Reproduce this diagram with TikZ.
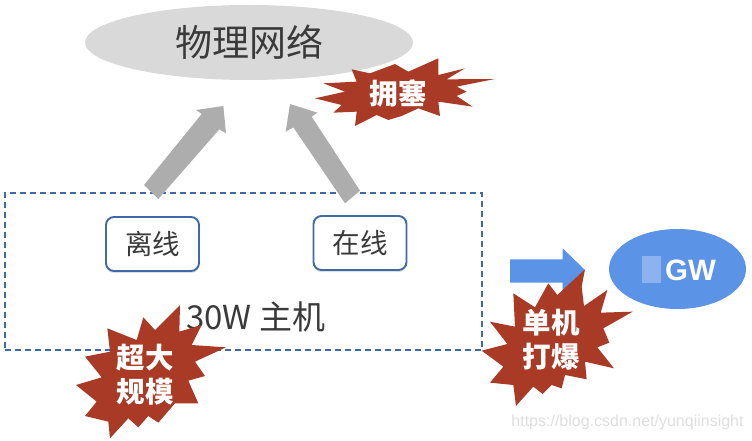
\documentclass[tikz,border=0pt]{standalone}
\usepackage{fontspec}
\usetikzlibrary{shapes.geometric,shadows}
\setmainfont{Liberation Sans}
\newfontfamily\cjk{Noto Sans CJK SC}
\definecolor{burst}{HTML}{A93A26}
\definecolor{framecol}{HTML}{3F6AA6}
\definecolor{cloudgrey}{HTML}{D9D9D9}
\definecolor{arrowgrey}{HTML}{ADADAD}
\definecolor{flowblue}{HTML}{5B93E6}
\definecolor{inktext}{HTML}{3A3A3A}
\tikzset{
  burststar/.style={fill=burst,draw=none},
  bursttext/.style={text=white,font=\cjk\bfseries\fontsize{28.5}{34}\selectfont,align=center,inner sep=0pt},
  blockgrey/.style={fill=arrowgrey,draw=none},
  modebox/.style={draw=framecol,line width=1.9pt,rounded corners=8pt,fill=white,minimum width=93pt,minimum height=54pt,text=inktext,font=\cjk\fontsize{27.5}{30}\selectfont,inner sep=0pt,drop shadow={opacity=.25,shadow xshift=0pt,shadow yshift=-2pt}},
}
\begin{document}
\begin{tikzpicture}[x=1pt,y=-1pt]
\useasboundingbox (0,0) rectangle (752,441);
\node[ellipse,fill=cloudgrey,minimum width=328pt,minimum height=75pt,inner sep=0pt,text=inktext,font=\cjk\fontsize{37}{40}\selectfont] (net) at (249,42.5) {物理网络};
% frame
\node[draw=framecol,dashed,dash pattern=on 6pt off 4pt,line width=1.1pt,minimum width=477pt,minimum height=157pt,inner sep=0pt] (hosts) at (243.5,271.5) {};
% grey arrows
\begin{scope}[shift={(90,100)},scale=1/3]
\fill[blockgrey] (162,255) -- (335,42) -- (318,30) -- (400,18) -- (408,100) -- (388,88) -- (205,297) -- cycle;
\fill[blockgrey] (810,272) -- (665,50) -- (682,38) -- (600,12) -- (587,95) -- (610,82) -- (765,310) -- cycle;
\end{scope}
\node[modebox] (off) at (152.5,244) {离线};
\node[modebox] (on) at (360,243) {在线};
\node[text=inktext,font=\cjk\fontsize{33}{36}\selectfont,inner sep=0pt] (hostcount) at (255.5,317) {30W 主机};
% blue arrow
\begin{scope}[shift={(470,220)},scale=1/3]
\fill[flowblue] (120,118) -- (278,118) -- (278,85) -- (345,150) -- (278,218) -- (278,188) -- (120,188) -- cycle;
\end{scope}
% gateway
\node[ellipse,fill=flowblue,minimum width=137pt,minimum height=80pt,inner sep=0pt] (gw) at (677.5,269) {};
\fill[white,opacity=.3] (642,256) rectangle (661,283);
\node[text=white,font=\fontsize{29.5}{30}\selectfont\bfseries,inner sep=0pt] (gwtext) at (690.5,270) {GW};
% bursts
\begin{scope}[shift={(300,40)},scale=1/3]
\fill[burststar] (155,88) -- (210,100) -- (285,72) -- (325,95) -- (415,55) -- (415,105) -- (495,85) -- (440,118) -- (585,117) -- (470,140) -- (500,155) -- (470,168) -- (518,200) -- (415,185) -- (420,228) -- (355,205) -- (305,228) -- (265,240) -- (230,225) -- (165,258) -- (170,215) -- (100,218) -- (125,195) -- (45,175) -- (135,155) -- (70,130) -- (170,125) -- cycle;
\end{scope}
\begin{scope}[shift={(60,290)},scale=1/3]
\fill[burststar] (360,45) -- (358,125) -- (425,105) -- (395,165) -- (498,172) -- (405,215) -- (435,258) -- (385,272) -- (415,340) -- (345,340) -- (295,398) -- (265,378) -- (235,412) -- (205,385) -- (150,445) -- (145,395) -- (75,378) -- (110,335) -- (48,285) -- (125,262) -- (75,200) -- (150,185) -- (142,115) -- (230,150) -- (250,82) -- (285,120) -- cycle;
\end{scope}
\begin{scope}[shift={(470,220)},scale=1/3]
\fill[burststar] (345,148) -- (335,200) -- (342,258) -- (412,210) -- (392,278) -- (488,275) -- (400,325) -- (418,368) -- (382,382) -- (432,445) -- (345,425) -- (350,478) -- (285,465) -- (275,505) -- (245,495) -- (218,522) -- (190,500) -- (138,558) -- (130,495) -- (60,488) -- (100,440) -- (35,392) -- (112,372) -- (60,305) -- (135,320) -- (130,220) -- (195,262) -- (235,190) -- (262,225) -- cycle;
\end{scope}
\node[bursttext] (b1) at (398,93) {拥塞};
\node[bursttext] (b2) at (145,375) {超大\\规模};
\node[bursttext] (b3) at (551,339.5) {单机\\打爆};
\node[text=black!13,font=\fontsize{16}{18}\selectfont,inner sep=0pt] (mark) at (627.5,422) {https://blog.csdn.net/yunqiinsight};
\end{tikzpicture}
\end{document}
